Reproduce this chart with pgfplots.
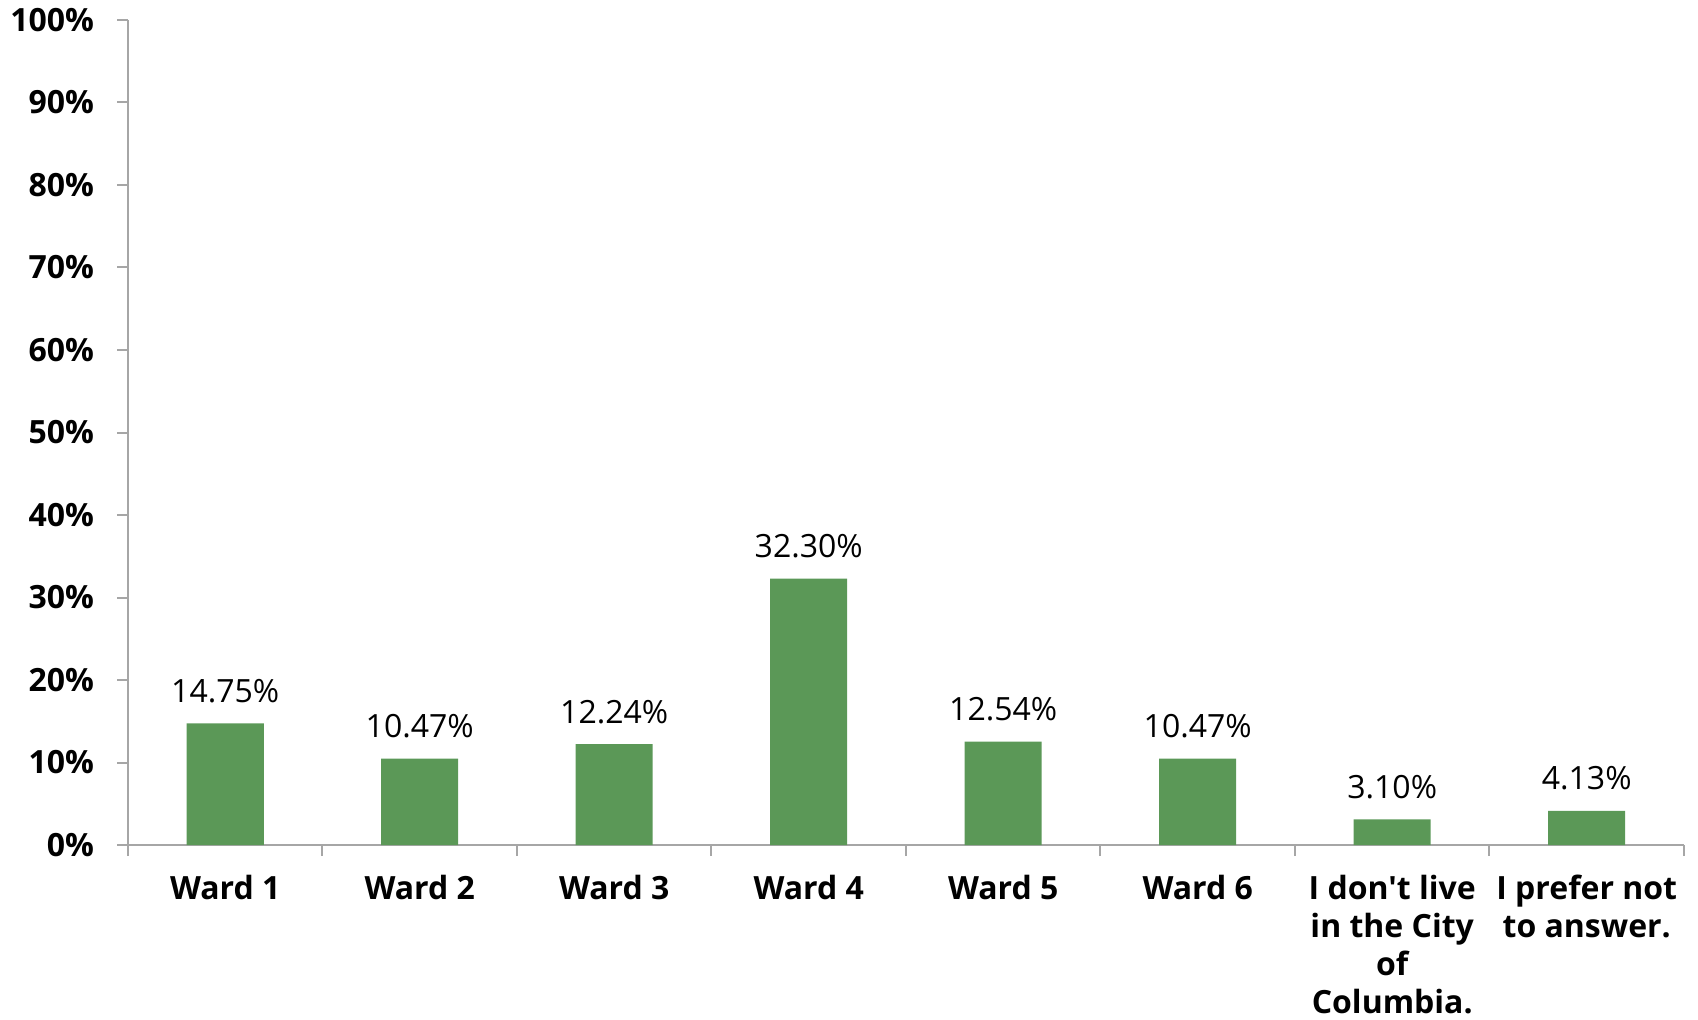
\documentclass[border=0pt]{standalone}
\usepackage{fontspec}
\setmainfont{Open Sans}[Ligatures=TeXOff]
\usepackage{pgfplots}
\pgfplotsset{compat=1.18}
\definecolor{barGreen}{RGB}{91,152,87}
\definecolor{axisGrey}{RGB}{166,166,166}

\begin{document}
\begin{tikzpicture}
% fixed page size: 1698x1019 px at 0.5pt per px
\useasboundingbox (0,0) rectangle (849pt,509.5pt);
\begin{axis}[
  at={(64pt,87pt)},
  anchor=south west,
  scale only axis,
  width=778pt,
  height=412.5pt,
  ymin=0, ymax=100,
  xmin=-0.5, xmax=7.5,
  ytick={0,10,...,100},
  yticklabel={\pgfmathprintnumber{\tick}\%},
  xtick={-0.5,0.5,...,7.5},
  x tick label as interval,
  xticklabels={Ward 1,Ward 2,Ward 3,Ward 4,Ward 5,Ward 6,
    {I don't live\\in the City\\of\\Columbia.},{I prefer not\\to answer.}},
  axis lines*=left,
  axis line style={draw=axisGrey, line width=1pt},
  tick style={draw=axisGrey, line width=1pt},
  tick align=outside,
  major tick length=5.5pt,
  /pgf/number format/assume math mode=true,
  yticklabel style={font=\fontsize{16}{18}\selectfont\bfseries, anchor=east, xshift=-8pt},
  xticklabel style={font=\fontsize{16}{19}\selectfont\bfseries, align=center, anchor=north, yshift=-6pt},
  clip=false,
]
\addplot[
  ybar,
  bar width=38.5pt,
  fill=barGreen,
  draw=none,
  nodes near coords={\pgfmathprintnumber[fixed,fixed zerofill,precision=2]{\pgfplotspointmeta}\%},
  nodes near coords style={font=\fontsize{16}{18}\selectfont, text=black, anchor=base, yshift=10.5pt},
] coordinates {
  (0,14.75)
  (1,10.47)
  (2,12.24)
  (3,32.30)
  (4,12.54)
  (5,10.47)
  (6,3.10)
  (7,4.13)
};
\end{axis}
\end{tikzpicture}
\end{document}
